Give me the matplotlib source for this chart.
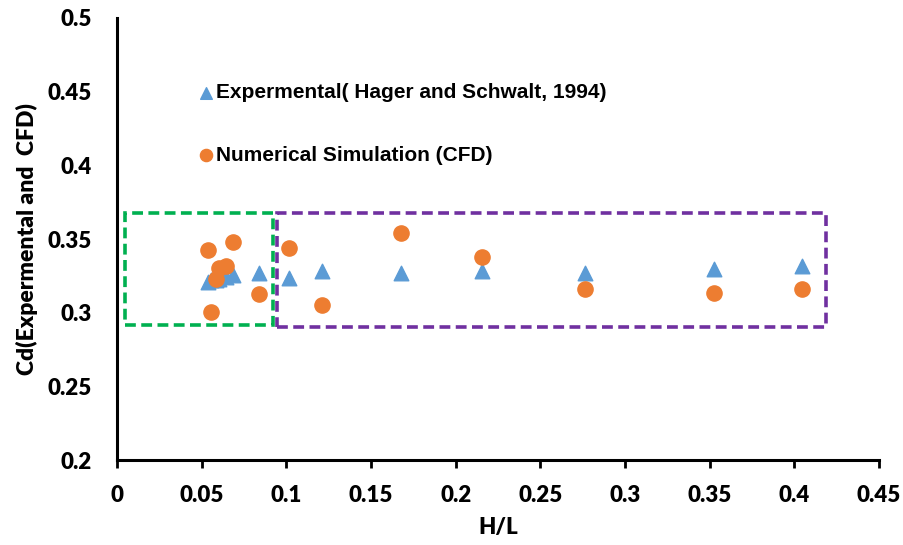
import numpy as np
import matplotlib
matplotlib.use("Agg")
import matplotlib.pyplot as plt
from matplotlib.patches import Rectangle

# H/L values and discharge coefficients
h_over_l = [0.0539, 0.0555, 0.0585, 0.0604, 0.0644, 0.0683, 0.084,
            0.1016, 0.1213, 0.168, 0.2157, 0.2764, 0.3524, 0.4043]
cd_exp = [0.321, 0.322, 0.3225, 0.323, 0.324, 0.3255, 0.3267,
          0.3233, 0.3283, 0.3271, 0.3285, 0.3267, 0.3294, 0.3317]
cd_cfd = [0.3425, 0.3007, 0.3229, 0.330, 0.3319, 0.3478, 0.3127,
          0.3437, 0.3052, 0.3543, 0.3376, 0.3159, 0.3136, 0.3159]

x_ticks = [0, 0.05, 0.1, 0.15, 0.2, 0.25, 0.3, 0.35, 0.4, 0.45]
x_labels = ["0", "0.05", "0.1", "0.15", "0.2", "0.25", "0.3", "0.35", "0.4", "0.45"]
y_ticks = [0.2, 0.25, 0.3, 0.35, 0.4, 0.45, 0.5]
y_labels = ["0.2", "0.25", "0.3", "0.35", "0.4", "0.45", "0.5"]

# dashed highlight boxes (x0, x1, y0, y1)
green_box = (0.0047, 0.092, 0.2916, 0.3677)
purple_box = (0.0945, 0.4187, 0.2903, 0.3677)

fig = plt.figure(figsize=(9.04, 5.45), dpi=100)
ax = fig.add_axes([117/904, (545-460)/545, (879-117)/904, (460-18)/545])

ax.scatter(h_over_l, cd_exp, marker="^", s=110, color="#5B9BD5", zorder=3,
           label="Expermental( Hager and Schwalt, 1994)")
ax.scatter(h_over_l, cd_cfd, marker="o", s=120, color="#ED7D31", zorder=3,
           label="Numerical Simulation (CFD)")

for (x0, x1, y0, y1), col in [(green_box, "#00B050"), (purple_box, "#7030A0")]:
    ax.add_patch(Rectangle((x0, y0), x1 - x0, y1 - y0, fill=False,
                           edgecolor=col, linewidth=2.6, linestyle=(0, (3, 1.5)),
                           zorder=2))

ax.set_xlim(0, 0.45)
ax.set_ylim(0.2, 0.5)
ax.set_xticks(x_ticks)
ax.set_xticklabels(x_labels)
ax.set_yticks(y_ticks)
ax.set_yticklabels(y_labels)

for lab in ax.get_xticklabels() + ax.get_yticklabels():
    lab.set_fontfamily("Lato")
    lab.set_fontweight("heavy")
    lab.set_fontsize(16)

ax.spines["top"].set_visible(False)
ax.spines["right"].set_visible(False)
ax.spines["left"].set_linewidth(2.2)
ax.spines["bottom"].set_linewidth(2.2)
ax.tick_params(axis="x", direction="out", length=6, width=2, pad=12)
ax.tick_params(axis="y", length=0, pad=18)

ax.set_xlabel("H/L", fontfamily="Lato", fontweight="heavy", fontsize=16, labelpad=8)
ax.set_ylabel("Cd(Expermental and  CFD)", fontfamily="Lato", fontweight="heavy",
              fontsize=16.5, labelpad=7)

ax.legend(loc="upper left", bbox_to_anchor=(0.078, 0.895), frameon=False,
          prop={"family": "Liberation Sans", "weight": "bold", "size": 15},
          markerscale=0.8, handletextpad=0.0, labelspacing=2.1,
          handlelength=1.0)

fig.savefig("out.png", dpi=100)
